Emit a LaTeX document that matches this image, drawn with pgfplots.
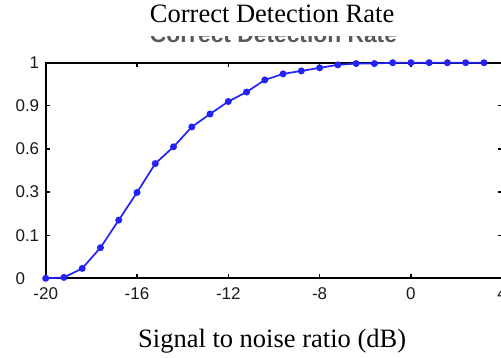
\documentclass[border=0pt]{standalone}
\usepackage{fontspec}
\setmainfont{Liberation Serif}
\newfontfamily\arial{Liberation Sans}
\usepackage{pgfplots}
\pgfplotsset{compat=1.18}
\definecolor{lineblue}{RGB}{35,35,245}
\begin{document}
\begin{tikzpicture}
\begin{scope}
\clip (100bp,235.3bp) rectangle (360bp,241.3bp);
\node[font=\arial\bfseries\fontsize{22.8bp}{26bp}\selectfont, text=black!65, anchor=base, inner sep=0pt] at (227.8bp,235.8bp) {Correct Detection Rate};
\end{scope}
\begin{axis}[
  scale only axis,
  width=456.5bp, height=215.6bp,
  xmin=0, xmax=5, ymin=0, ymax=5,
  clip=false,
  axis line style={line width=1.7bp, black},
  xtick={0,1,2,3,4,5},
  xticklabels={-20,-16,-12,-8,0,4},
  ytick={0,1,2,3,4,5},
  yticklabels={{0\phantom{.0}},0.1,0.3,0.6,0.9,1},
  tick align=inside,
  major tick length=4bp,
  tick style={line width=1.3bp, black},
  ticklabel style={font=\arial\fontsize{17bp}{19bp}\selectfont, text=black!90},
  xticklabel style={yshift=-6bp},
  yticklabel style={xshift=-3bp},
  title={Correct Detection Rate},
  title style={font=\fontsize{26.5bp}{30bp}\selectfont, at={(0.496,1.161)}, anchor=base, inner sep=0pt},
  xlabel={Signal to noise ratio (dB)},
  xlabel style={font=\fontsize{26.5bp}{30bp}\selectfont, at={(0.496,-0.323)}, anchor=base, inner sep=0pt},
]
\addplot[color=lineblue, line width=1.7bp, mark=*, mark size=2.6bp, mark options={fill=lineblue, draw=lineblue}]
coordinates {
(0,0) (0.2,0.02) (0.4,0.23) (0.6,0.71) (0.8,1.35) (1.0,1.99) (1.2,2.66) (1.4,3.05)
(1.6,3.51) (1.8,3.81) (2.0,4.10) (2.2,4.32) (2.4,4.60) (2.6,4.74) (2.8,4.81) (3.0,4.88)
(3.2,4.95) (3.4,4.98) (3.6,4.98) (3.8,5.0) (4.0,5.0) (4.2,5.0) (4.4,5.0) (4.6,5.0) (4.8,5.0)
};
\end{axis}
\pgfresetboundingbox
\path (-45.7bp,-79.7bp) rectangle (455.3bp,278.3bp);
\end{tikzpicture}
\end{document}
